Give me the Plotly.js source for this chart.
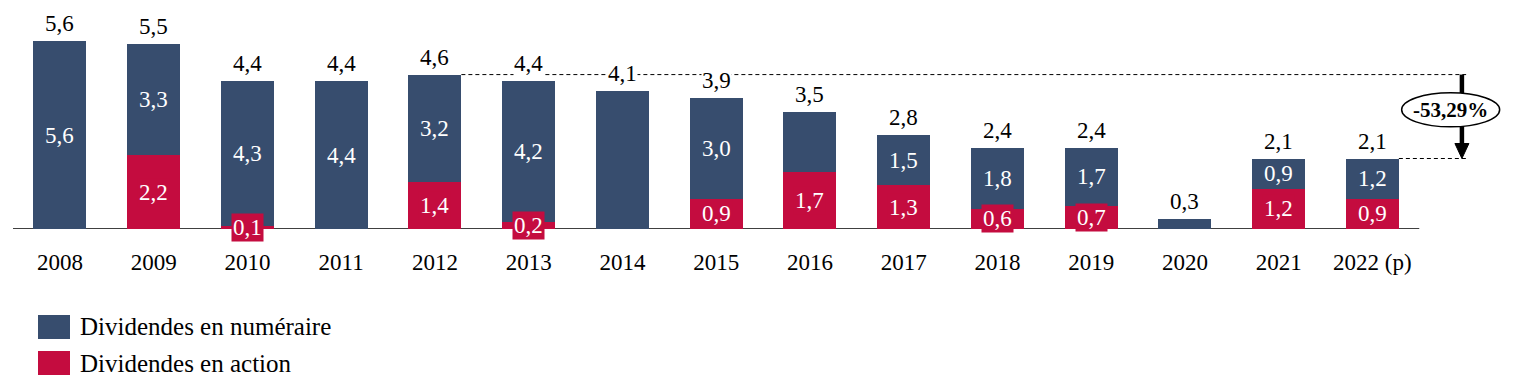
<!DOCTYPE html>
<html>
<head>
<meta charset="utf-8">
<script src="https://cdn.plot.ly/plotly-3.0.1.min.js"></script>
<style>html,body{margin:0;padding:0;background:#fff;}#chart{width:1518px;height:392px;}</style>
</head>
<body>
<div id="chart"></div>
<script>
// ---- data ----
const years = ['2008','2009','2010','2011','2012','2013','2014','2015','2016','2017','2018','2019','2020','2021','2022 (p)'];
const numeraire = [5.6, 3.3, 4.3, 4.4, 3.2, 4.2, 4.1, 3.0, 1.8, 1.5, 1.8, 1.7, 0.3, 0.9, 1.2];
const action    = [0,   2.2, 0.1, 0,   1.4, 0.2, 0,   0.9, 1.7, 1.3, 0.6, 0.7, 0,   1.2, 0.9];
const totals    = [5.6, 5.5, 4.4, 4.4, 4.6, 4.4, 4.1, 3.9, 3.5, 2.8, 2.4, 2.4, 0.3, 2.1, 2.1];
const numeraireLabels = ['5,6','3,3','4,3','4,4','3,2','4,2','','3,0','','1,5','1,8','1,7','','0,9','1,2'];
const actionLabels    = ['','2,2','0,1','','1,4','0,2','','0,9','1,7','1,3','0,6','0,7','','1,2','0,9'];
const totalLabels     = ['5,6','5,5','4,4','4,4','4,6','4,4','4,1','3,9','3,5','2,8','2,4','2,4','0,3','2,1','2,1'];
const seriesNames = ['Dividendes en numéraire', 'Dividendes en action'];
const changeLabel = '-53,29%';
const fromYear = '2012', toYear = '2022 (p)';

// ---- style ----
const BLUE = '#374d6e', RED = '#c40c3f';
const FONT = 'Liberation Serif, Times New Roman, serif';
const FS = 23;
const W = 1518, H = 392;
const mL = 13, mR = 10, mT = 10, mB = 163;
const plotW = W - mL - mR, plotH = H - mT - mB;
const pxPerCat = 93.75, pxPerUnit = 33.57;
const xMax = -0.5 + plotW / pxPerCat;
const yMax = plotH / pxPerUnit;
const barW = 0.565;
const idx = years.map((_, i) => i);
const px2paperX = p => (p - mL) / plotW;
const px2paperY = p => (H - mB - p) / plotH;

const traces = [
  {type:'bar', x: idx, y: action, name: seriesNames[1], marker:{color: RED}, width: barW, hoverinfo:'skip'},
  {type:'bar', x: idx, y: numeraire, name: seriesNames[0], marker:{color: BLUE}, width: barW, hoverinfo:'skip'}
];

const annotations = [];
idx.forEach(i => {
  annotations.push({x: i, y: totals[i], xref:'x', yref:'y', text: totalLabels[i], showarrow:false,
    yanchor:'bottom', yshift: 4, bgcolor:'#fff', borderpad: 0, font:{family: FONT, size: FS, color:'#000'}});
  if (numeraireLabels[i]) annotations.push({x: i, y: action[i] + numeraire[i] / 2, xref:'x', yref:'y',
    text: numeraireLabels[i], showarrow:false, yanchor:'middle', font:{family: FONT, size: FS, color:'#fff'}});
  if (actionLabels[i]) annotations.push({x: i, y: action[i] / 2, xref:'x', yref:'y',
    text: actionLabels[i], showarrow:false, yanchor:'middle', bgcolor: RED, borderpad: 1,
    font:{family: FONT, size: FS, color:'#fff'}});
});

const iFrom = years.indexOf(fromYear), iTo = years.indexOf(toYear);
const yTop = totals[iFrom], yBot = totals[iTo];
const xLineEnd = iTo + 1.0;
const xArrow = iTo + 0.955;
const headLen = 15 / pxPerUnit, headHalf = 7 / pxPerCat;
const ellCx = iTo + 0.835, ellCy = (yTop + yBot) / 2 + 0.2;
const ellRx = 49 / pxPerCat, ellRy = 17 / pxPerUnit;

const shapes = [
  {type:'line', xref:'x', yref:'y', x0:-0.5, x1: years.length - 0.5, y0:0, y1:0, line:{color:'#000', width:1.3}, layer:'below'},
  {type:'line', xref:'x', yref:'y', x0: iFrom + barW/2, x1: xLineEnd, y0: yTop, y1: yTop, line:{color:'#000', width:1, dash:'4px,3px'}, layer:'below'},
  {type:'line', xref:'x', yref:'y', x0: iTo + barW/2, x1: xLineEnd, y0: yBot, y1: yBot, line:{color:'#000', width:1, dash:'4px,3px'}, layer:'below'},
  {type:'line', xref:'x', yref:'y', x0: xArrow, x1: xArrow, y0: yTop, y1: yBot + headLen*0.9, line:{color:'#000', width:4.5}},
  {type:'path', xref:'x', yref:'y', path: `M ${xArrow-headHalf} ${yBot+headLen} L ${xArrow+headHalf} ${yBot+headLen} L ${xArrow} ${yBot} Z`,
    fillcolor:'#000', line:{color:'#000', width:1}},
  {type:'circle', xref:'x', yref:'y', x0: ellCx-ellRx, x1: ellCx+ellRx, y0: ellCy-ellRy, y1: ellCy+ellRy,
    fillcolor:'#fff', line:{color:'#000', width:1.5}},
  {type:'rect', xref:'paper', yref:'paper', x0: px2paperX(38), x1: px2paperX(70), y0: px2paperY(315), y1: px2paperY(339), fillcolor: BLUE, line:{width:0}},
  {type:'rect', xref:'paper', yref:'paper', x0: px2paperX(38), x1: px2paperX(70), y0: px2paperY(351), y1: px2paperY(375), fillcolor: RED, line:{width:0}}
];

annotations.push({x: ellCx, y: ellCy, xref:'x', yref:'y', text: '<b>' + changeLabel + '</b>', showarrow:false,
  font:{family: FONT, size: 21, color:'#000'}});
annotations.push({x: px2paperX(78), y: px2paperY(327), xref:'paper', yref:'paper', xanchor:'left', yanchor:'middle',
  text: seriesNames[0], showarrow:false, font:{family: FONT, size: 25, color:'#000'}});
annotations.push({x: px2paperX(78), y: px2paperY(363), xref:'paper', yref:'paper', xanchor:'left', yanchor:'middle',
  text: seriesNames[1], showarrow:false, font:{family: FONT, size: 25, color:'#000'}});

const layout = {
  width: W, height: H,
  margin: {l: mL, r: mR, t: mT, b: mB, pad: 0},
  paper_bgcolor:'#fff', plot_bgcolor:'#fff',
  barmode:'stack', showlegend:false,
  xaxis: {range:[-0.5, xMax], tickvals: idx, ticktext: years, showgrid:false, zeroline:false, showline:false,
    ticks:'outside', ticklen: 12, tickcolor:'rgba(0,0,0,0)', tickfont:{family: FONT, size: FS, color:'#000'}, fixedrange:true},
  yaxis: {range:[0, yMax], visible:false, fixedrange:true},
  shapes: shapes, annotations: annotations
};

Plotly.newPlot('chart', traces, layout, {displayModeBar:false, staticPlot:true});
</script>
</body>
</html>
